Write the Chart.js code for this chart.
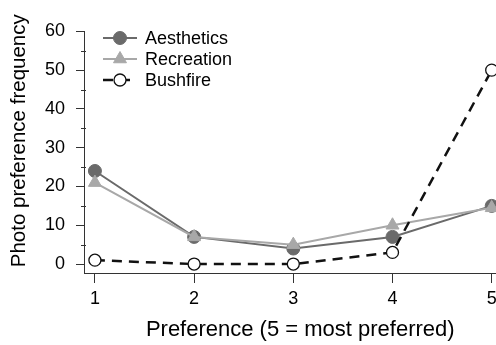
<!DOCTYPE html>
<html>
<head>
<meta charset="utf-8">
<script src="https://cdn.jsdelivr.net/npm/chart.js@4/dist/chart.umd.min.js"></script>
<style>
  html, body { margin: 0; padding: 0; overflow: hidden; background: #fff; width: 496px; height: 345px; }
  #wrap { width: 525px; height: 345px; }
</style>
</head>
<body>
<div id="wrap"><canvas id="c" width="525" height="345"></canvas></div>
<script>
const categories = [1, 2, 3, 4, 5];
const aesthetics = [24, 7, 4, 7, 15];
const recreation = [21, 7, 5, 10, 14.5];
const bushfire = [1, 0, 0, 3, 50];
const seriesNames = ['Aesthetics', 'Recreation', 'Bushfire'];
const yTickValues = [0, 5, 10, 15, 20, 25, 30, 35, 40, 45, 50, 55, 60];
const xTickValues = [1, 2, 3, 4, 5];

const FONT = "'Liberation Sans', Arial, sans-serif";
const AXIS = '#333333';

function pts(vals) { return categories.map((c, i) => ({ x: c, y: vals[i] })); }

const datasets = [
  { label: seriesNames[0], data: pts(aesthetics), borderColor: '#6a6a6a', backgroundColor: '#6a6a6a',
    borderWidth: 2, pointStyle: 'circle', pointRadius: 6.5, pointBorderWidth: 1, pointBackgroundColor: '#6a6a6a',
    pointBorderColor: '#6a6a6a', order: 3 },
  { label: seriesNames[1], data: pts(recreation), borderColor: '#a8a8a8', backgroundColor: '#a8a8a8',
    borderWidth: 2, pointStyle: 'triangle', pointRadius: 7.5, pointBorderWidth: 1, pointBackgroundColor: '#a8a8a8',
    pointBorderColor: '#a8a8a8', order: 2 },
  { label: seriesNames[2], data: pts(bushfire), borderColor: '#111111', backgroundColor: '#ffffff',
    borderWidth: 2.5, borderDash: [10, 7], pointStyle: 'circle', pointRadius: 6, pointBorderWidth: 1.3,
    pointBackgroundColor: '#ffffff', pointBorderColor: '#111111', order: 1 }
];

const axisPlugin = {
  id: 'axisExtras',
  afterDraw(chart) {
    const ctx = chart.ctx, y = chart.scales.y, a = chart.chartArea;
    ctx.save();
    ctx.strokeStyle = AXIS;
    ctx.lineWidth = 1;
    ctx.beginPath();
    ctx.moveTo(a.left + 0.5, Math.round(y.getPixelForValue(yTickValues[yTickValues.length - 1])));
    ctx.lineTo(a.left + 0.5, a.bottom);
    ctx.stroke();
    yTickValues.forEach(v => {
      if (v % 10 !== 0) {
        const py = Math.round(y.getPixelForValue(v)) + 0.5;
        ctx.beginPath();
        ctx.moveTo(a.left - 3, py);
        ctx.lineTo(a.left + 2, py);
        ctx.stroke();
      }
    });
    ctx.restore();

    const rows = [38, 59, 80];
    ctx.save();
    chart.data.datasets.forEach((ds, i) => {
      const ry = rows[i];
      ctx.strokeStyle = ds.borderColor;
      ctx.lineWidth = ds.borderWidth;
      ctx.setLineDash(ds.borderDash || []);
      ctx.beginPath();
      ctx.moveTo(103, ry);
      ctx.lineTo(137, ry);
      ctx.stroke();
      ctx.setLineDash([]);
      ctx.fillStyle = ds.pointBackgroundColor;
      ctx.strokeStyle = ds.pointBorderColor;
      ctx.lineWidth = ds.pointBorderWidth;
      Chart.helpers.drawPoint(ctx, { pointStyle: ds.pointStyle, radius: ds.pointRadius, borderWidth: ds.pointBorderWidth, rotation: 0 }, 120, ry);
      ctx.fillStyle = '#000';
      ctx.font = '18px ' + FONT;
      ctx.textBaseline = 'middle';
      ctx.textAlign = 'left';
      ctx.fillText(ds.label, 145, ry + 1);
    });
    ctx.restore();
  }
};

new Chart(document.getElementById('c'), {
  type: 'line',
  data: { datasets },
  plugins: [axisPlugin],
  options: {
    responsive: false,
    animation: false,
    devicePixelRatio: 1,
    layout: { padding: { top: 7, left: 0, right: 0, bottom: 0 } },
    plugins: { legend: { display: false }, tooltip: { enabled: false } },
    scales: {
      x: {
        type: 'linear', min: 0.89, max: 5.25,
        afterBuildTicks: s => { s.ticks = xTickValues.map(v => ({ value: v })); },
        afterFit: s => { s.height = 72; s.paddingLeft = 0; s.paddingRight = 0; },
        border: { display: true, color: AXIS, width: 1 },
        grid: { display: true, drawOnChartArea: false, drawTicks: true, tickLength: 10, color: AXIS },
        ticks: { color: '#000', font: { family: FONT, size: 18, lineHeight: 1.2 }, padding: 5, maxRotation: 0, autoSkip: false },
        title: { display: true, text: 'Preference (5 = most preferred)', color: '#000',
          font: { family: FONT, size: 22, lineHeight: 1.2 }, padding: { top: 0, bottom: 2 } }
      },
      y: {
        type: 'linear', min: -2.31, max: 65.9,
        afterBuildTicks: s => { s.ticks = yTickValues.map(v => ({ value: v })); },
        afterFit: s => { s.width = 84; s.paddingTop = 0; s.paddingBottom = 0; },
        border: { display: false },
        grid: { display: true, drawOnChartArea: false, drawTicks: true, tickLength: 8,
          color: c => (c.tick && c.tick.value % 10 === 0) ? AXIS : 'rgba(0,0,0,0)' },
        ticks: { color: '#000', font: { family: FONT, size: 18, lineHeight: 1.2 }, padding: 11, autoSkip: false,
          callback: v => (v % 10 === 0 ? String(v) : '') },
        title: { display: true, text: 'Photo preference frequency', color: '#000',
          font: { family: FONT, size: 20.5, lineHeight: 1.2 }, padding: { top: 6.7, bottom: 0 } }
      }
    }
  }
});
</script>
</body>
</html>
